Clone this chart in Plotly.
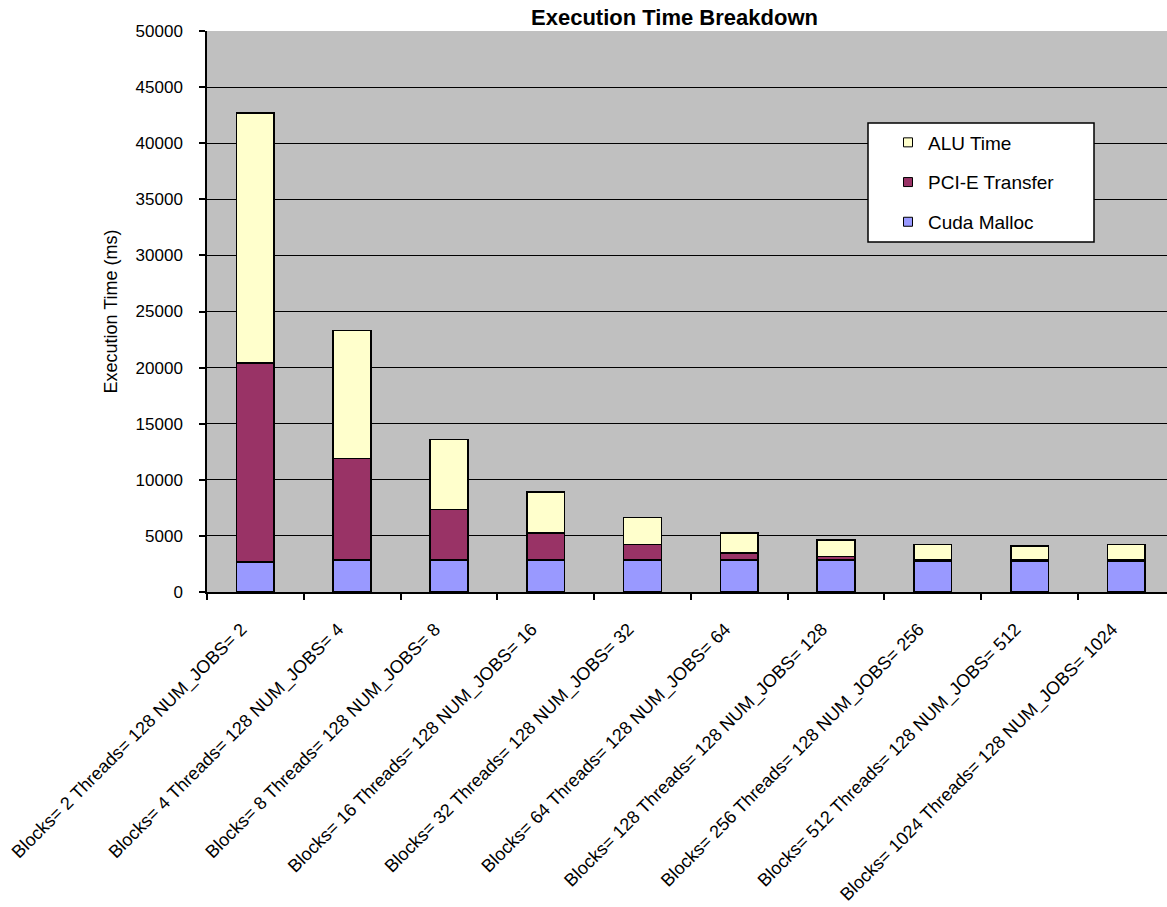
import plotly.graph_objects as go

categories = [
    "Blocks= 2 Threads= 128 NUM_JOBS= 2",
    "Blocks= 4 Threads= 128 NUM_JOBS= 4",
    "Blocks= 8 Threads= 128 NUM_JOBS= 8",
    "Blocks= 16 Threads= 128 NUM_JOBS= 16",
    "Blocks= 32 Threads= 128 NUM_JOBS= 32",
    "Blocks= 64 Threads= 128 NUM_JOBS= 64",
    "Blocks= 128 Threads= 128 NUM_JOBS= 128",
    "Blocks= 256 Threads= 128 NUM_JOBS= 256",
    "Blocks= 512 Threads= 128 NUM_JOBS= 512",
    "Blocks= 1024 Threads= 128 NUM_JOBS= 1024",
]
cuda_malloc = [2700, 2850, 2850, 2850, 2850, 2850, 2850, 2750, 2750, 2750]
pcie_transfer = [17700, 9050, 4500, 2400, 1400, 650, 300, 80, 80, 80]
alu_time = [22300, 11400, 6250, 3650, 2400, 1750, 1500, 1400, 1250, 1400]
y_ticks = [0, 5000, 10000, 15000, 20000, 25000, 30000, 35000, 40000, 45000, 50000]

FONT = "Arial, Liberation Sans, sans-serif"
W, H = 1167, 907
L, T, B = 207, 31, 315
plot_w = W - L
plot_h = H - T - B

series = [
    ("Cuda Malloc", cuda_malloc, "#9999FF"),
    ("PCI-E Transfer", pcie_transfer, "#993366"),
    ("ALU Time", alu_time, "#FFFFCC"),
]

fig = go.Figure()
for name, vals, color in series:
    fig.add_trace(go.Bar(
        x=categories, y=vals, name=name, showlegend=False,
        marker=dict(color=color, line=dict(color="black", width=1.6)),
    ))

# legend entries (small square swatches like the original)
for i, (name, vals, color) in enumerate(reversed(series)):
    fig.add_trace(go.Scatter(
        x=[None], y=[None], mode="markers", name=name,
        legendgroup=f"g{i}",
        marker=dict(symbol="square", size=9, color=color,
                    line=dict(color="black", width=1)),
    ))

def px_x(px):
    return (px - L) / plot_w

def px_y(py):
    return (T + plot_h - py) / plot_h

# legend box
fig.add_shape(type="rect", xref="paper", yref="paper",
              x0=px_x(868), x1=px_x(1094), y0=px_y(242), y1=px_y(123),
              fillcolor="white", line=dict(color="black", width=1.5), layer="above")

fig.update_layout(
    width=W, height=H,
    margin=dict(l=L, r=0, t=T, b=B, pad=0),
    paper_bgcolor="white",
    plot_bgcolor="#C0C0C0",
    barmode="stack",
    bargap=0.61,
    font=dict(family=FONT, size=17, color="black"),
    title=dict(text="<b>Execution Time Breakdown</b>", x=674.5 / W, xref="container",
               xanchor="center", y=1 - 17 / H, yref="container", yanchor="middle",
               font=dict(family=FONT, size=22, color="black")),
    showlegend=True,
    legend=dict(x=px_x(888), y=px_y(123.5), xanchor="left", yanchor="top",
                bgcolor="rgba(0,0,0,0)", borderwidth=0,
                traceorder="grouped", tracegroupgap=12,
                font=dict(family=FONT, size=19, color="black")),
    xaxis=dict(
        type="category", range=[-0.5, 9.42],
        tickangle=-45, tickson="boundaries", ticks="outside", ticklen=6,
        tickcolor="black", tickwidth=1.5,
        showline=True, linecolor="black", linewidth=1.5,
        showgrid=False, zeroline=False,
        ticklabelstandoff=18, ticklabelshift=-14,
        tickfont=dict(family=FONT, size=18, color="black"),
    ),
    yaxis=dict(
        range=[0, 50000], tickvals=y_ticks, ticktext=[str(v) for v in y_ticks],
        ticks="outside", ticklen=6, tickcolor="black", tickwidth=1.5,
        showline=True, linecolor="black", linewidth=1.5,
        showgrid=True, gridcolor="black", gridwidth=1.2,
        zeroline=False, ticklabelstandoff=13,
        tickfont=dict(family=FONT, size=17, color="black"),
        title=dict(text="Execution Time (ms)", standoff=13,
                   font=dict(family=FONT, size=18, color="black")),
    ),
)

fig.write_html("out.html")
